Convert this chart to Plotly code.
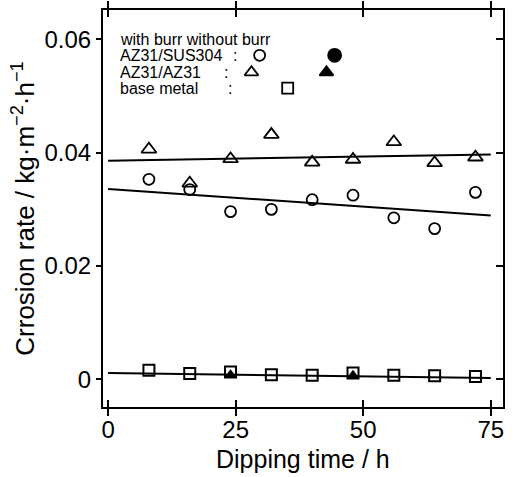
import plotly.graph_objects as go

# ---- data ----
time_h = [8, 16, 24, 32, 40, 48, 56, 64, 72]
sus304_burr = [0.0353, 0.0335, 0.0296, 0.0300, 0.0317, 0.0325, 0.0285, 0.0266, 0.0330]
az31_burr = [0.0406, 0.0346, 0.0389, 0.0432, 0.0383, 0.0388, 0.0419, 0.0382, 0.0392]
base_metal = [0.0016, 0.0010, 0.0013, 0.0008, 0.0007, 0.0011, 0.0007, 0.0006, 0.0005]
az31_noburr_t = [24, 48]
az31_noburr = [0.0008, 0.0007]

fit_x = [0, 75]
fit_sus304 = [0.0336, 0.0289]
fit_az31 = [0.0386, 0.0397]
fit_base = [0.0011, 0.0002]

# legend key positions (data coords)
key_open_circle = (29.7, 0.0572)
key_fill_circle = (44.4, 0.0572)
key_open_tri = (28.1, 0.0542)
key_fill_tri = (42.8, 0.0542)
key_open_sq = (35.2, 0.0514)

legend_labels = ["with burr without burr", "AZ31/SUS304", "AZ31/AZ31", "base metal"]
legend_y = [0.0600, 0.0572, 0.0542, 0.0514]
colon_x = [None, 24.8, 23.2, 23.8]

FONT = "Liberation Sans, Arial, Helvetica, sans-serif"
fig = go.Figure()

line_style = dict(color="black", width=2)
for fy in (fit_az31, fit_sus304, fit_base):
    fig.add_trace(go.Scatter(x=fit_x, y=fy, mode="lines", line=line_style,
                             showlegend=False, hoverinfo="skip"))

fig.add_trace(go.Scatter(x=az31_noburr_t, y=az31_noburr, mode="markers",
                         marker=dict(symbol="triangle-up", size=11, color="black"),
                         showlegend=False))
fig.add_trace(go.Scatter(x=time_h, y=base_metal, mode="markers",
                         marker=dict(symbol="square-open", size=11, color="black",
                                     line=dict(width=2, color="black")),
                         showlegend=False))
fig.add_trace(go.Scatter(x=time_h, y=sus304_burr, mode="markers",
                         marker=dict(symbol="circle-open", size=11, color="black",
                                     line=dict(width=1.8, color="black")),
                         showlegend=False))
fig.add_trace(go.Scatter(x=time_h, y=az31_burr, mode="markers",
                         marker=dict(symbol="triangle-up-open", size=13, color="black",
                                     line=dict(width=1.8, color="black")),
                         showlegend=False))

# legend key markers
for (kx, ky), sym, sz in [(key_open_circle, "circle-open", 11),
                          (key_fill_circle, "circle", 13),
                          (key_open_tri, "triangle-up-open", 12),
                          (key_fill_tri, "triangle-up", 12),
                          (key_open_sq, "square-open", 11)]:
    fig.add_trace(go.Scatter(x=[kx], y=[ky], mode="markers",
                             marker=dict(symbol=sym, size=sz, color="black",
                                         line=dict(width=1.8, color="black")),
                             showlegend=False, hoverinfo="skip"))

# dummy trace for right-side axis
fig.add_trace(go.Scatter(x=[None], y=[None], yaxis="y2", showlegend=False))

for txt, yy, cx in zip(legend_labels, legend_y, colon_x):
    fig.add_annotation(x=2.0, y=yy, xref="x", yref="y", text=txt, showarrow=False,
                       xanchor="left", yanchor="middle",
                       font=dict(family=FONT, size=16, color="black"))
    if cx is not None:
        fig.add_annotation(x=cx, y=yy, xref="x", yref="y", text=":", showarrow=False,
                           xanchor="center", yanchor="middle",
                           font=dict(family=FONT, size=16, color="black"))

# x-axis title as an annotation so it can sit close to the bottom edge
fig.add_annotation(x=0.5, y=-0.172, xref="paper", yref="paper",
                   text="Dipping time / h", showarrow=False,
                   xanchor="center", yanchor="bottom",
                   font=dict(family=FONT, size=25, color="black"))

yr = [-0.0049, 0.0652]
fig.update_layout(
    width=517, height=477,
    margin=dict(l=103, r=14, t=10, b=70),
    paper_bgcolor="white", plot_bgcolor="white",
    font=dict(family=FONT, color="black"),
    xaxis=dict(range=[-1.0, 77.4], tickvals=[0, 25, 50, 75], ticks="inside",
               ticklen=7, tickwidth=2, tickcolor="black", mirror="allticks",
               showline=True, linewidth=2, linecolor="black", showgrid=False,
               zeroline=False, tickfont=dict(size=24, family=FONT), automargin=False),
    yaxis=dict(range=yr, tickvals=[0, 0.02, 0.04, 0.06],
               ticktext=["0", "0.02", "0.04", "0.06"], ticks="outside",
               ticklen=5, tickwidth=2, tickcolor="black", automargin=False,
               showline=True, linewidth=2, linecolor="black", showgrid=False,
               zeroline=False, tickfont=dict(size=24, family=FONT),
               title=dict(text="Crrosion rate / kg·m<sup>−2</sup>·h<sup>−1</sup>",
                          font=dict(size=26, family=FONT), standoff=2)),
    yaxis2=dict(range=yr, overlaying="y", side="right", tickvals=[0, 0.02, 0.04, 0.06],
                ticks="inside", ticklen=7, tickwidth=2, tickcolor="black",
                showticklabels=False, showline=True, linewidth=2, linecolor="black",
                showgrid=False, zeroline=False, automargin=False),
)

fig.write_html("out.html", config={"displayModeBar": False},
               post_script="document.body.style.margin='0';document.body.style.overflow='hidden';")
